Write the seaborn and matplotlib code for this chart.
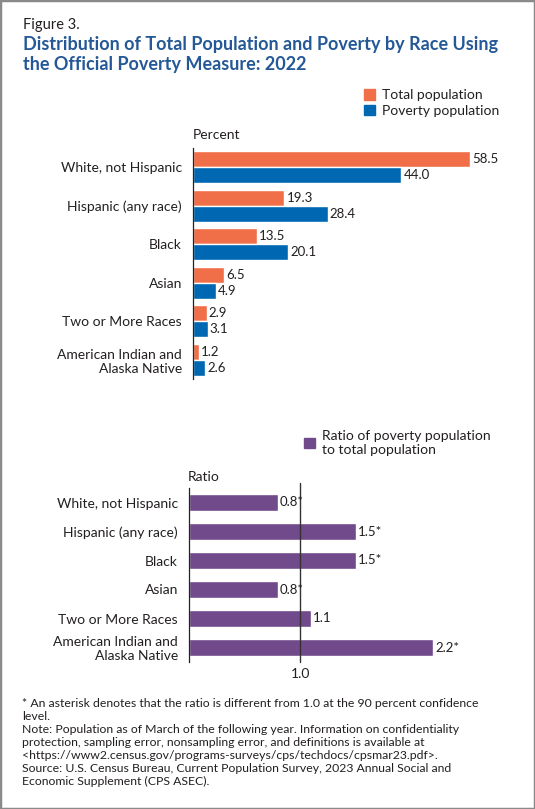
import matplotlib
matplotlib.use('Agg')
import matplotlib.pyplot as plt
import matplotlib.patches as mpatches
import pandas as pd
import seaborn as sns

# Data
races = ['White, not Hispanic', 'Hispanic (any race)', 'Black', 'Asian',
         'Two or More Races', 'American Indian and\nAlaska Native']
total_pct = [58.5, 19.3, 13.5, 6.5, 2.9, 1.2]
poverty_pct = [44.0, 28.4, 20.1, 4.9, 3.1, 2.6]
ratio = [0.8, 1.5, 1.5, 0.8, 1.1, 2.2]
ratio_sig = [True, True, True, True, False, True]
series_names = ['Total population', 'Poverty population']

ORANGE = '#F06E48'
BLUE = '#0068B2'
PURPLE = '#714A8C'
TITLE_BLUE = '#245896'
TXT = '#231F20'

sns.set_theme(style='white')
plt.rcParams['font.family'] = ['Lato', 'DejaVu Sans']
plt.rcParams['text.color'] = TXT
plt.rcParams['axes.labelcolor'] = TXT
plt.rcParams['xtick.color'] = TXT
plt.rcParams['ytick.color'] = TXT

W, H = 535, 809
fig = plt.figure(figsize=(W / 100, H / 100), dpi=100)

# frame around the figure
fig.patches.append(mpatches.Rectangle((0, 0), 1, 1, transform=fig.transFigure,
                                      fill=False, edgecolor='#8a8a8a', lw=2.5))

fig.text(23 / W, 1 - 25 / H, 'Figure 3.', fontsize=10.5, va='center', color=TXT)
fig.text(23 / W, 1 - 36 / H,
         'Distribution of Total Population and Poverty by Race Using\n'
         'the Official Poverty Measure: 2022',
         fontsize=13, fontweight='bold', color=TITLE_BLUE, va='top', linespacing=1.2)

# ---- top chart: percent distribution
df = pd.DataFrame({
    'race': races * 2,
    'pct': total_pct + poverty_pct,
    'series': [series_names[0]] * len(races) + [series_names[1]] * len(races),
})

ax1 = fig.add_axes([193 / W, 1 - 379 / H, 308 / W, 231 / H])
sns.barplot(data=df, y='race', x='pct', hue='series', palette=[ORANGE, BLUE],
            width=0.83, orient='h', saturation=1, legend=False, ax=ax1)
for cont in ax1.containers:
    ax1.bar_label(cont, fmt='%.1f', padding=1.5, fontsize=9.5, color=TXT)
ax1.set_xlim(0, 65)
ax1.set_xlabel('')
ax1.set_ylabel('')
ax1.set_xticks([])
ax1.tick_params(axis='y', length=0, pad=8, labelsize=10)
for s in ['top', 'right', 'bottom']:
    ax1.spines[s].set_visible(False)
ax1.spines['left'].set_color('#222222')
ax1.spines['left'].set_linewidth(0.9)
fig.text(193 / W, 1 - 135 / H, 'Percent', fontsize=10, va='center', ha='left')

h1 = [mpatches.Patch(color=ORANGE, label=series_names[0]),
      mpatches.Patch(color=BLUE, label=series_names[1])]
fig.legend(handles=h1, loc='upper left', bbox_to_anchor=(364 / W, 1 - 89 / H),
           frameon=False, fontsize=10, handlelength=0.8, handleheight=0.8,
           handletextpad=0.5, labelspacing=0.25, borderpad=0, borderaxespad=0)

# ---- bottom chart: ratio
df2 = pd.DataFrame({'race': races, 'ratio': ratio})
ax2 = fig.add_axes([189 / W, 1 - 662 / H, 311 / W, 174 / H])
sns.barplot(data=df2, y='race', x='ratio', color=PURPLE, width=0.62,
            orient='h', saturation=1, ax=ax2)
labels = [f'{v:.1f}*' if s else f'{v:.1f}' for v, s in zip(ratio, ratio_sig)]
ax2.bar_label(ax2.containers[0], labels=labels, padding=1.5, fontsize=9.5, color=TXT)
ax2.axvline(1.0, color='#333333', lw=1, ymin=0, ymax=1.03, clip_on=False)
ax2.set_xlim(0, 2.8)
ax2.set_xticks([1.0])
ax2.set_xticklabels(['1.0'])
ax2.set_xlabel('')
ax2.set_ylabel('')
ax2.tick_params(axis='x', length=0, pad=4, labelsize=10)
ax2.tick_params(axis='y', length=0, pad=8, labelsize=10)
for s in ['top', 'right', 'bottom']:
    ax2.spines[s].set_visible(False)
ax2.spines['left'].set_color('#222222')
ax2.spines['left'].set_linewidth(0.9)
fig.text(188 / W, 1 - 477 / H, 'Ratio', fontsize=10, va='center', ha='left')

h2 = [mpatches.Patch(color=PURPLE, label='Ratio of poverty population\nto total population')]
fig.legend(handles=h2, loc='upper left', bbox_to_anchor=(304 / W, 1 - 430 / H),
           frameon=False, fontsize=10, handlelength=0.8, handleheight=0.8,
           handletextpad=0.5, borderpad=0, borderaxespad=0)

# ---- notes
notes = ('* An asterisk denotes that the ratio is different from 1.0 at the 90 percent confidence\n'
         'level.\n'
         'Note: Population as of March of the following year. Information on confidentiality\n'
         'protection, sampling error, nonsampling error, and definitions is available at\n'
         '<https://www2.census.gov/programs-surveys/cps/techdocs/cpsmar23.pdf>.\n'
         'Source: U.S. Census Bureau, Current Population Survey, 2023 Annual Social and\n'
         'Economic Supplement (CPS ASEC).')
fig.text(22 / W, 1 - 698 / H, notes, fontsize=8.8, va='top', ha='left', linespacing=1.22)

fig.savefig('out.png', dpi=100, facecolor='white')
